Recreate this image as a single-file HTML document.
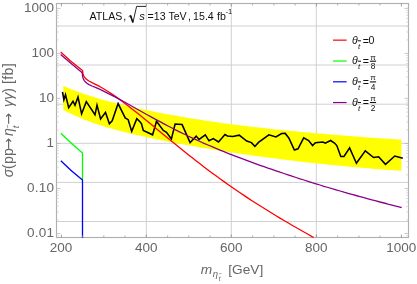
<!DOCTYPE html>
<html><head><meta charset="utf-8">
<style>
html,body{margin:0;padding:0;background:#fff;}
svg{display:block;font-family:"Liberation Sans",sans-serif;}
</style></head>
<body>
<svg width="417" height="284" viewBox="0 0 417 284">
<rect width="417" height="284" fill="#fff"/>
<!-- gridlines -->
<g stroke="#d0d0d0" stroke-width="1" fill="none">
<path d="M56.5 26H408.5M56.5 65H408.5M56.5 104.2H408.5M56.5 143.3H408.5M56.5 182.4H408.5M56.5 221.5H408.5"/>
<path d="M146.3 3.5V237.5M231.3 3.5V237.5M316.3 3.5V237.5"/>
</g>
<!-- frame -->
<rect x="56.5" y="3.5" width="352" height="234" fill="none" stroke="#b0b0b0" stroke-width="1.15"/>
<!-- yellow band -->
<path fill="#ffff00" d="M63.3 85.9L67.3 87.6L71.3 89.2L75.3 90.8L79.3 92.3L83.3 93.7L87.3 95.0L91.3 96.3L95.3 97.6L99.3 98.7L103.3 99.9L107.3 101.0L111.3 102.1L115.3 103.1L119.3 104.1L123.3 105.0L127.3 106.0L131.3 106.9L135.3 107.8L139.3 108.7L143.3 109.5L147.3 110.3L151.3 111.1L155.3 111.9L159.3 112.7L163.3 113.5L167.3 114.2L171.3 114.9L175.3 115.6L179.3 116.3L183.3 117.0L187.3 117.7L191.3 118.4L195.3 119.0L199.3 119.6L203.3 120.2L207.3 120.9L211.3 121.4L215.3 122.0L219.3 122.6L223.3 123.2L227.3 123.7L231.3 124.2L235.3 124.8L239.3 125.3L243.3 125.8L247.3 126.2L251.3 126.7L255.3 127.2L259.3 127.6L263.3 128.1L267.3 128.5L271.3 128.9L275.3 129.4L279.3 129.8L283.3 130.2L287.3 130.6L291.3 131.0L295.3 131.3L299.3 131.7L303.3 132.1L307.3 132.4L311.3 132.8L315.3 133.2L319.3 133.5L323.3 133.8L327.3 134.2L331.3 134.5L335.3 134.9L339.3 135.2L343.3 135.5L347.3 135.8L351.3 136.2L355.3 136.5L359.3 136.8L363.3 137.1L367.3 137.4L371.3 137.7L375.3 137.9L379.3 138.2L383.3 138.5L387.3 138.7L391.3 139.0L395.3 139.2L399.3 139.4L401.4 139.4L401.4 170.7L399.3 170.6L395.3 170.4L391.3 170.1L387.3 169.9L383.3 169.6L379.3 169.3L375.3 169.0L371.3 168.6L367.3 168.3L363.3 168.0L359.3 167.6L355.3 167.2L351.3 166.9L347.3 166.5L343.3 166.1L339.3 165.7L335.3 165.3L331.3 164.9L327.3 164.5L323.3 164.1L319.3 163.7L315.3 163.3L311.3 162.8L307.3 162.4L303.3 161.9L299.3 161.5L295.3 161.0L291.3 160.5L287.3 160.1L283.3 159.6L279.3 159.1L275.3 158.6L271.3 158.1L267.3 157.5L263.3 157.0L259.3 156.5L255.3 155.9L251.3 155.3L247.3 154.8L243.3 154.2L239.3 153.6L235.3 153.0L231.3 152.4L227.3 151.8L223.3 151.1L219.3 150.5L215.3 149.9L211.3 149.2L207.3 148.5L203.3 147.9L199.3 147.2L195.3 146.5L191.3 145.8L187.3 145.1L183.3 144.4L179.3 143.6L175.3 142.9L171.3 142.1L167.3 141.4L163.3 140.6L159.3 139.8L155.3 139.0L151.3 138.2L147.3 137.3L143.3 136.5L139.3 135.6L135.3 134.7L131.3 133.8L127.3 132.8L123.3 131.8L119.3 130.8L115.3 129.7L111.3 128.6L107.3 127.5L103.3 126.3L99.3 125.0L95.3 123.7L91.3 122.3L87.3 120.8L83.3 119.2L79.3 117.5L75.3 115.8L71.3 113.9L67.3 111.9L63.3 109.7Z"/>
<path fill="none" stroke="#000" stroke-width="1.55" stroke-linejoin="miter" stroke-miterlimit="6" d="M62.5 92L63.9 99.8L65.5 94.7L68.7 107.7L73 101.2L75 105.3L78 97L81.6 113.8L86.3 101.6L95 114.8L97 105.1L100.6 119L105.5 112.4L109.4 123.8L112.2 120.8L118.1 103.6L125.2 117.9L128.2 119.7L131.7 131.4L136.8 118.7L140.2 122L141.5 123.8L143.3 130.4L152.6 134.8L156.5 121.2L163.3 130.5L166.5 132.3L171.4 139L175.1 124L182.1 124.6L190.1 142.6L196.2 136.1L199.1 139.4L205.3 134.9L209 140.8L213.3 138.6L218.5 142L225 134.5L227.4 136L232.8 136.4L239.2 135.2L246.7 141.1L251.4 142.6L254.9 146.4L258.5 142.4L268.9 134.8L275.9 137L281.6 133.5L285.2 133.4L288.8 137.9L294.4 150L298 148.8L303.7 137.9L308.6 140.5L312.6 145.5L315.4 142.8L322.9 142L325.3 143.1L330.6 140.5L334.5 143L336.8 145.6L340.8 156.4L344 156.4L349.6 147.9L356.4 163.2L365.3 150.8L373.6 157.5L378.6 156.8L385.5 164.3L394.8 156L402.8 158.3"/>
<!-- curves -->
<g fill="none" stroke-width="1.3" stroke-linejoin="round">
<path stroke="#ff0000" d="M60.7 52L70 60.4L82.5 70.4L82.9 73.2L83.5 75.3L84.3 76.9L85.5 78.4L86.9 79.6L89 81L92.0 82.6L96.0 84.6L100.0 86.7L104.0 89.0L108.0 91.5L112.0 94.1L116.0 96.9L120.0 99.8L124.0 102.7L128.0 105.8L132.0 108.9L136.0 112.0L140.0 115.3L144.0 118.5L148.0 121.8L152.0 125.1L156.0 128.4L160.0 131.7L164.0 135.0L168.0 138.3L172.0 141.6L176.0 144.8L180.0 148.1L184.0 151.3L188.0 154.5L192.0 157.6L196.0 160.8L200.0 163.8L204.0 166.9L208.0 169.9L212.0 172.9L216.0 175.8L220.0 178.8L224.0 181.6L228.0 184.5L232.0 187.3L236.0 190.0L240.0 192.7L244.0 195.4L248.0 198.1L252.0 200.7L256.0 203.3L260.0 205.8L264.0 208.3L268.0 210.8L272.0 213.3L276.0 215.7L280.0 218.1L284.0 220.5L288.0 222.8L292.0 225.2L296.0 227.5L300.0 229.8L304.0 232.0L308.0 234.3L312.0 236.6L313.7 237.5"/>
<path stroke="#00ff00" d="M60.8 133.2Q71.6 143.8 82.5 153V180"/>
<path stroke="#0000ff" d="M60.8 160.7Q70.9 170.9 82.5 179.9V238"/>
<path stroke="#8b008b" d="M60.6 54.5L70 62.5L82.2 72.7L82.7 76.9L83.4 79L84.3 80.6L85.5 82.1L86.9 83.3L89 84.6L92.0 86.0L96.0 87.6L100.0 89.4L104.0 91.3L108.0 93.3L112.0 95.3L116.0 97.4L120.0 99.6L124.0 101.8L128.0 104.0L132.0 106.2L136.0 108.5L140.0 110.7L144.0 113.0L148.0 115.2L152.0 117.4L156.0 119.6L160.0 121.7L164.0 123.9L168.0 126.0L172.0 128.0L176.0 130.1L180.0 132.1L184.0 134.0L188.0 136.0L192.0 137.8L196.0 139.7L200.0 141.5L204.0 143.3L208.0 145.0L212.0 146.7L216.0 148.4L220.0 150.1L224.0 151.7L228.0 153.3L232.0 154.9L236.0 156.4L240.0 157.9L244.0 159.4L248.0 160.9L252.0 162.4L256.0 163.8L260.0 165.3L264.0 166.7L268.0 168.1L272.0 169.4L276.0 170.8L280.0 172.2L284.0 173.5L288.0 174.8L292.0 176.2L296.0 177.5L300.0 178.8L304.0 180.0L308.0 181.3L312.0 182.6L316.0 183.8L320.0 185.0L324.0 186.3L328.0 187.5L332.0 188.7L336.0 189.8L340.0 191.0L344.0 192.2L348.0 193.3L352.0 194.4L356.0 195.5L360.0 196.6L364.0 197.7L368.0 198.8L372.0 199.9L376.0 200.9L380.0 202.0L384.0 203.0L388.0 204.1L392.0 205.1L396.0 206.2L400.0 207.2L401.7 207.7"/>
</g>
<g id="ticks" stroke-width="0.8" fill="none"><path stroke="#bababa" d="M56.5 233.5h4M408.5 233.5h-4M56.5 188.5h4M408.5 188.5h-4M56.5 143.5h4M408.5 143.5h-4M56.5 98.4h4M408.5 98.4h-4M56.5 53.4h4M408.5 53.4h-4M56.5 8.4h4M408.5 8.4h-4"/><path stroke="#cecece" d="M56.5 235.6h2.2M408.5 235.6h-2.2M56.5 219.9h2.2M408.5 219.9h-2.2M56.5 212.0h2.2M408.5 212.0h-2.2M56.5 206.4h2.2M408.5 206.4h-2.2M56.5 202.0h2.2M408.5 202.0h-2.2M56.5 198.5h2.2M408.5 198.5h-2.2M56.5 195.5h2.2M408.5 195.5h-2.2M56.5 192.8h2.2M408.5 192.8h-2.2M56.5 190.5h2.2M408.5 190.5h-2.2M56.5 174.9h2.2M408.5 174.9h-2.2M56.5 167.0h2.2M408.5 167.0h-2.2M56.5 161.4h2.2M408.5 161.4h-2.2M56.5 157.0h2.2M408.5 157.0h-2.2M56.5 153.4h2.2M408.5 153.4h-2.2M56.5 150.4h2.2M408.5 150.4h-2.2M56.5 147.8h2.2M408.5 147.8h-2.2M56.5 145.5h2.2M408.5 145.5h-2.2M56.5 129.9h2.2M408.5 129.9h-2.2M56.5 122.0h2.2M408.5 122.0h-2.2M56.5 116.4h2.2M408.5 116.4h-2.2M56.5 112.0h2.2M408.5 112.0h-2.2M56.5 108.4h2.2M408.5 108.4h-2.2M56.5 105.4h2.2M408.5 105.4h-2.2M56.5 102.8h2.2M408.5 102.8h-2.2M56.5 100.5h2.2M408.5 100.5h-2.2M56.5 84.9h2.2M408.5 84.9h-2.2M56.5 77.0h2.2M408.5 77.0h-2.2M56.5 71.3h2.2M408.5 71.3h-2.2M56.5 67.0h2.2M408.5 67.0h-2.2M56.5 63.4h2.2M408.5 63.4h-2.2M56.5 60.4h2.2M408.5 60.4h-2.2M56.5 57.8h2.2M408.5 57.8h-2.2M56.5 55.5h2.2M408.5 55.5h-2.2M56.5 39.9h2.2M408.5 39.9h-2.2M56.5 31.9h2.2M408.5 31.9h-2.2M56.5 26.3h2.2M408.5 26.3h-2.2M56.5 22.0h2.2M408.5 22.0h-2.2M56.5 18.4h2.2M408.5 18.4h-2.2M56.5 15.4h2.2M408.5 15.4h-2.2M56.5 12.8h2.2M408.5 12.8h-2.2M56.5 10.5h2.2M408.5 10.5h-2.2"/><path stroke="#8c8c8c" d="M61.4 3.5v3M61.4 237.5v-3M146.3 3.5v3M146.3 237.5v-3M231.3 3.5v3M231.3 237.5v-3M316.4 3.5v3M316.4 237.5v-3M401.4 3.5v3M401.4 237.5v-3"/><path stroke="#9c9c9c" d="M82.6 3.5v2M82.6 237.5v-2M103.8 3.5v2M103.8 237.5v-2M125.1 3.5v2M125.1 237.5v-2M167.6 3.5v2M167.6 237.5v-2M188.8 3.5v2M188.8 237.5v-2M210.1 3.5v2M210.1 237.5v-2M252.6 3.5v2M252.6 237.5v-2M273.9 3.5v2M273.9 237.5v-2M295.1 3.5v2M295.1 237.5v-2M337.6 3.5v2M337.6 237.5v-2M358.9 3.5v2M358.9 237.5v-2M380.1 3.5v2M380.1 237.5v-2"/></g>
<!-- tick labels -->
<g fill="#666" font-size="13.5px">
<g text-anchor="end">
<text x="54" y="12.3">1000</text>
<text x="54" y="57.3">100</text>
<text x="54" y="102.3">10</text>
<text x="54" y="147.3">1</text>
<text x="54.25" y="192.4" letter-spacing="0.25">0.10</text>
<text x="54.25" y="237.4" letter-spacing="0.25">0.01</text>
</g>
<g text-anchor="middle">
<text x="61" y="252.4">200</text>
<text x="146.3" y="252.4">400</text>
<text x="231.3" y="252.4">600</text>
<text x="316.3" y="252.4">800</text>
<text x="401.3" y="252.4">1000</text>
</g>
</g>
<!-- axis labels -->
<g fill="#666" font-size="13px">
<text y="273.6" font-size="13.7px"><tspan x="200.8" font-style="italic">m</tspan><tspan x="212.8" y="276.8" font-size="9.5px" font-style="italic">η</tspan><tspan x="218.8" y="281" font-size="6.5px" font-style="italic">t</tspan><tspan x="228.2" y="273.6">[GeV]</tspan></text><path d="M219.3 273.6H221.5" stroke="#666" stroke-width="0.6" fill="none"/>
<text transform="translate(13.1 177.2) rotate(-90)" font-size="14.2px"><tspan x="0" font-style="italic">σ</tspan><tspan x="8.2">(</tspan><tspan x="13.2">pp</tspan><tspan x="27.6" font-family="DejaVu Sans,sans-serif" font-size="13.8px">→</tspan><tspan x="41.2" font-style="italic">η</tspan><tspan x="48.9" font-size="9.5px" font-style="italic" dy="5.5">t</tspan><tspan x="52.8" dy="-5.5" font-family="DejaVu Sans,sans-serif" font-size="13.8px">→</tspan><tspan x="70.3" font-style="italic">γγ</tspan><tspan>)</tspan><tspan x="93.2" letter-spacing="0.3">[fb]</tspan></text>
</g>
<path d="M7.6 124.9V127.9" stroke="#777" stroke-width="0.7" fill="none"/>
<!-- title -->
<g fill="#111" font-size="10.6px">
<text y="19.7"><tspan x="89.6">ATLAS</tspan><tspan x="123.3">,</tspan><tspan x="139.2" font-size="11.3px" font-style="italic">s</tspan><tspan x="147.6">=13</tspan><tspan x="168.4">TeV</tspan><tspan x="187.9">,</tspan><tspan x="193.1">15.4</tspan><tspan x="217">fb</tspan><tspan x="225.4" font-size="7.5px" dy="-5.4">-1</tspan></text>
<path d="M128.7 16.7L130.5 15.4L132.9 22.6L136.6 6.4H146" fill="none" stroke="#111" stroke-width="0.9"/><path d="M130.5 15.6L132.8 22.2" fill="none" stroke="#111" stroke-width="1.6"/>
</g>
<!-- legend -->
<g stroke-width="1.2" fill="none">
<path stroke="#ff0000" d="M333 40.15H346.6"/>
<path stroke="#00ff00" d="M333 61H346.6"/>
<path stroke="#0000ff" d="M333 81.8H346.6"/>
<path stroke="#8b008b" d="M333 102.55H346.6"/>
</g>
<g fill="#111" font-size="10.6px">
<text y="43.8"><tspan x="352.1" font-style="italic">θ</tspan><tspan x="358" y="49.0" font-size="8px" font-style="italic">t</tspan><tspan x="362.7" y="44.5">=</tspan><tspan x="368.6" y="43.8">0</tspan></text><path d="M357.9 40.8H361" stroke="#111" stroke-width="1" fill="none"/>
<text y="64.2"><tspan x="352.1" font-style="italic">θ</tspan><tspan x="358" y="69.4" font-size="8px" font-style="italic">t</tspan><tspan x="362.7" y="64.9">=</tspan></text><text x="373" y="59.7" font-size="8px" text-anchor="middle">π</text><path d="M369.9 61.2H376.1" stroke="#111" stroke-width="1.1" fill="none"/><text x="373" y="69.2" font-size="8.4px" text-anchor="middle">8</text><path d="M357.9 61.2H361" stroke="#111" stroke-width="1" fill="none"/>
<text y="84.9"><tspan x="352.1" font-style="italic">θ</tspan><tspan x="358" y="90.1" font-size="8px" font-style="italic">t</tspan><tspan x="362.7" y="85.6">=</tspan></text><text x="373" y="80.4" font-size="8px" text-anchor="middle">π</text><path d="M369.9 81.9H376.1" stroke="#111" stroke-width="1.1" fill="none"/><text x="373" y="89.9" font-size="8.4px" text-anchor="middle">4</text><path d="M357.9 81.9H361" stroke="#111" stroke-width="1" fill="none"/>
<text y="105.5"><tspan x="352.1" font-style="italic">θ</tspan><tspan x="358" y="110.7" font-size="8px" font-style="italic">t</tspan><tspan x="362.7" y="106.2">=</tspan></text><text x="373" y="101.0" font-size="8px" text-anchor="middle">π</text><path d="M369.9 102.5H376.1" stroke="#111" stroke-width="1.1" fill="none"/><text x="373" y="110.5" font-size="8.4px" text-anchor="middle">2</text><path d="M357.9 102.5H361" stroke="#111" stroke-width="1" fill="none"/>
</g>
</svg>
</body></html>
